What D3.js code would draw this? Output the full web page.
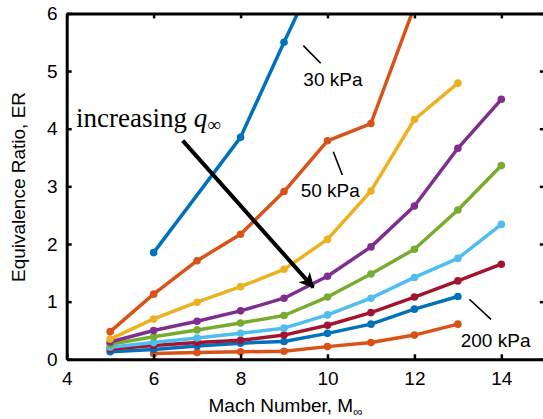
<!DOCTYPE html>
<html>
<head>
<meta charset="utf-8">
<script src="https://cdn.jsdelivr.net/npm/d3@7"></script>
<style>
	body { margin: 0; background: #fff; }
	svg { display: block; font-family: "Liberation Sans", Arial, sans-serif; }
</style>
</head>
<body>
<svg width="543" height="419"></svg>
<script>
// Mach numbers for each series and the equivalence ratio
const machA = [6, 8, 9, 10];
const mach5to12 = [5, 6, 7, 8, 9, 10, 11, 12];
const mach5to13 = [5, 6, 7, 8, 9, 10, 11, 12, 13];
const mach5to14 = [5, 6, 7, 8, 9, 10, 11, 12, 13, 14];
const mach6to13 = [6, 7, 8, 9, 10, 11, 12, 13];

const er30 = [1.85, 3.85, 5.50, 7.1];
const er50 = [0.48, 1.13, 1.71, 2.17, 2.91, 3.79, 4.09, 6.12];
const erS3 = [0.35, 0.70, 0.99, 1.26, 1.56, 2.08, 2.92, 4.16, 4.79];
const erS4 = [0.30, 0.50, 0.66, 0.84, 1.06, 1.44, 1.95, 2.66, 3.66, 4.51];
const erS5 = [0.26, 0.39, 0.51, 0.63, 0.76, 1.08, 1.48, 1.91, 2.59, 3.36];
const erS6 = [0.21, 0.29, 0.37, 0.45, 0.54, 0.77, 1.06, 1.42, 1.75, 2.34];
const erS7 = [0.18, 0.24, 0.29, 0.33, 0.42, 0.59, 0.81, 1.08, 1.36, 1.65];
const er200 = [0.13, 0.17, 0.23, 0.28, 0.31, 0.45, 0.61, 0.87, 1.09];
const erS9 = [0.10, 0.12, 0.13, 0.14, 0.22, 0.29, 0.42, 0.61];

const xTicks = [4, 6, 8, 10, 12, 14];
const yTicks = [0, 1, 2, 3, 4, 5, 6];

const colors = ["#0072BD", "#D95319", "#EDB120", "#7E2F8E", "#77AC30", "#4DBEEE", "#A2142F", "#0072BD", "#D95319"];

const series = [
	[machA, er30], [mach5to12, er50], [mach5to13, erS3], [mach5to14, erS4], [mach5to14, erS5],
	[mach5to14, erS6], [mach5to14, erS7], [mach5to13, er200], [mach6to13, erS9]
].map(([m, e], i) => ({ color: colors[i], pts: m.map((d, j) => [d, e[j]]) }));

const svg = d3.select("svg");
const box = { left: 66.7, right: 544.8, top: 13.4, bottom: 359.3 };

const x = d3.scaleLinear().domain([4, 15]).range([box.left, box.right]);
const y = d3.scaleLinear().domain([0, 6]).range([box.bottom, box.top]);

const defs = svg.append("defs");
defs.append("clipPath").attr("id", "plotClip")
	.append("rect").attr("x", box.left).attr("y", box.top)
	.attr("width", box.right - box.left).attr("height", box.bottom - box.top);

const plot = svg.append("g").attr("clip-path", "url(#plotClip)");

const line = d3.line().x(d => x(d[0])).y(d => y(d[1]));

// draw in reverse so the first series sits on top
series.slice().reverse().forEach(s => {
	const g = plot.append("g");
	g.append("path")
		.attr("d", line(s.pts))
		.attr("fill", "none")
		.attr("stroke", s.color)
		.attr("stroke-width", 3.5)
		.attr("stroke-linejoin", "round");
	g.selectAll("circle")
		.data(s.pts)
		.join("circle")
		.attr("cx", d => x(d[0]))
		.attr("cy", d => y(d[1]))
		.attr("r", 3.8)
		.attr("fill", s.color);
});

// axes, ticks pointing inward
function styleAxis(g) {
	g.select(".domain").attr("stroke", "#000").attr("stroke-width", 3);
	g.selectAll(".tick line").attr("stroke", "#000").attr("stroke-width", 2.5);
	g.selectAll(".tick text").attr("font-size", 19).attr("fill", "#000")
		.attr("font-family", "Liberation Sans, Arial, sans-serif");
}

svg.append("g").attr("transform", `translate(0,${box.bottom})`)
	.call(d3.axisBottom(x).tickValues(xTicks).tickSizeInner(-5).tickSizeOuter(0).tickPadding(12).tickFormat(d3.format("d")))
	.call(styleAxis);
svg.append("g").attr("transform", `translate(0,${box.top})`)
	.call(d3.axisTop(x).tickValues(xTicks).tickSizeInner(-5).tickSizeOuter(0).tickFormat(""))
	.call(styleAxis);
svg.append("g").attr("transform", `translate(${box.left},0)`)
	.call(d3.axisLeft(y).tickValues(yTicks).tickSizeInner(-5).tickSizeOuter(0).tickPadding(9).tickFormat(d3.format("d")))
	.call(styleAxis);
svg.append("g").attr("transform", `translate(${box.right},0)`)
	.call(d3.axisRight(y).tickValues(yTicks).tickSizeInner(-5).tickSizeOuter(0).tickFormat(""))
	.call(styleAxis);

// axis labels
const xl = svg.append("text")
	.attr("x", 285.5).attr("y", 411.7)
	.attr("text-anchor", "middle")
	.attr("font-size", 19);
xl.append("tspan").text("Mach Number, M");
xl.append("tspan").attr("font-size", 13).attr("dy", 4).text("∞");

svg.append("text")
	.attr("transform", "translate(25,187) rotate(-90)")
	.attr("text-anchor", "middle")
	.attr("font-size", 19)
	.text("Equivalence Ratio, ER");

// annotations
const notes = [
	{ text: "30 kPa", tx: 9.444, ty: 4.741, l: [[9.444, 5.440], [9.844, 5.135]] },
	{ text: "50 kPa", tx: 9.384, ty: 2.815, l: [[10.134, 3.601], [10.341, 3.197]] },
	{ text: "200 kPa", tx: 13.066, ty: 0.213, l: [[13.264, 1.041], [13.763, 0.694]] }
];

notes.forEach(n => {
	svg.append("line")
		.attr("x1", x(n.l[0][0])).attr("y1", y(n.l[0][1]))
		.attr("x2", x(n.l[1][0])).attr("y2", y(n.l[1][1]))
		.attr("stroke", "#000").attr("stroke-width", 1.6);
	svg.append("text")
		.attr("x", x(n.tx)).attr("y", y(n.ty))
		.attr("font-size", 19)
		.text(n.text);
});

defs.append("marker")
	.attr("id", "head")
	.attr("viewBox", "0 0 10 10")
	.attr("refX", 9).attr("refY", 5)
	.attr("markerWidth", 4.2).attr("markerHeight", 3.8)
	.attr("markerUnits", "strokeWidth")
	.attr("orient", "auto")
	.append("path").attr("d", "M0,0 L10,5 L0,10 L2.5,5 Z").attr("fill", "#000");

svg.append("line")
	.attr("x1", x(6.669)).attr("y1", y(3.792))
	.attr("x2", x(9.674)).attr("y2", y(1.249))
	.attr("stroke", "#000").attr("stroke-width", 4)
	.attr("marker-end", "url(#head)");

const inc = svg.append("text")
	.attr("x", x(4.214)).attr("y", y(4.034))
	.attr("font-family", "Liberation Serif, Times New Roman, serif")
	.attr("font-size", 27);
inc.append("tspan").text("increasing ");
inc.append("tspan").attr("font-style", "italic").text("q");
inc.append("tspan").attr("font-size", 19).attr("dy", 4).text("∞");
</script>
</body>
</html>
